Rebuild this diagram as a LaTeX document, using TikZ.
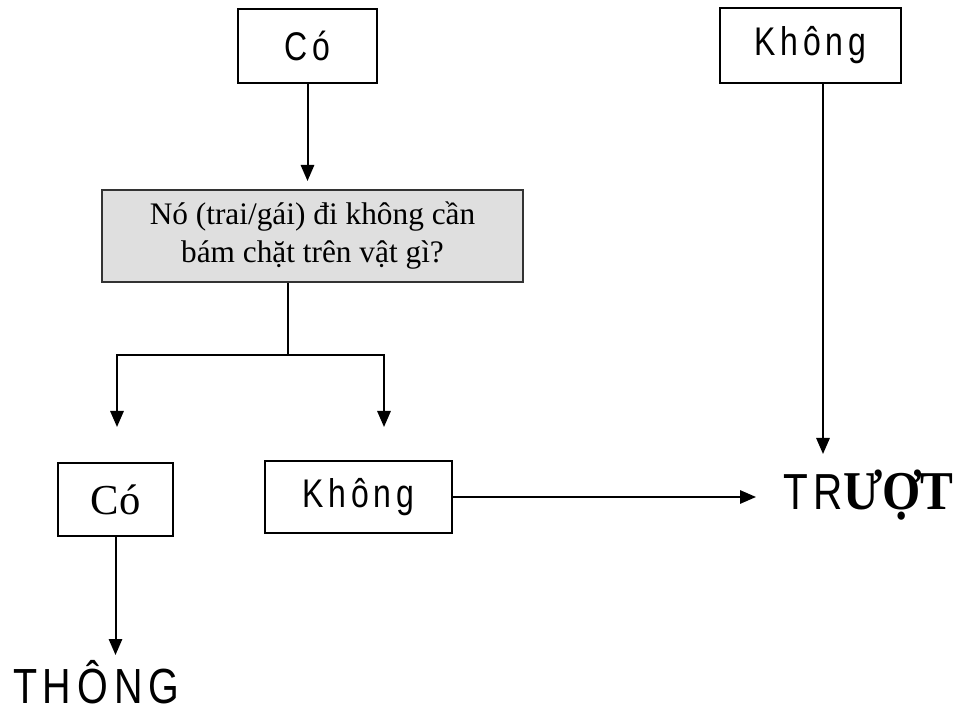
\documentclass[tikz,border=0pt]{standalone}
\usepackage{fontspec}
\setmainfont{Liberation Serif}
\newfontfamily\hep[FakeStretch=0.8,LetterSpace=12]{Liberation Sans}
\newfontfamily\chuto[FakeStretch=0.9]{Liberation Serif}
\usetikzlibrary{arrows.meta}

\begin{document}
\begin{tikzpicture}[x=0.75pt,y=-0.75pt]
                \useasboundingbox (0,0) rectangle (953,712);
                \begin{scope}[every node/.style={draw=black,line width=1.5pt,inner sep=0pt,font=\hep\fontsize{30}{34}\selectfont}]
                    \node[line width=2pt,minimum width=104.25pt,minimum height=55.5pt] (Co1) at (307.5,46) {Có};
                    \node[line width=2pt,minimum width=135.75pt,minimum height=56.25pt] (Khong1) at (810.5,45.5) {Không};
                    \node[draw=black!80,fill=gray!25,align=center,minimum width=315.75pt,minimum height=69pt,font=\fontsize{23.5}{28.5}\selectfont] (Hoi) at (312.5,236) {Nó (trai/gái) đi không cần\\bám chặt trên vật gì?};
                    \node[minimum width=86.25pt,minimum height=54.75pt,font=\fontsize{32}{36}\selectfont] (Co2) at (115.5,499.5) {Có};
                    \node[minimum width=140.25pt,minimum height=54pt] (Khong2) at (358.5,497) {Không};
                    \node[draw=none,anchor=base west,font=\hep\fontsize{38}{42}\selectfont] (Truot) at (782,510) {TR{\chuto\bfseries\fontsize{41}{44}\selectfont ƯỢT}};
                    \node[draw=none,anchor=base west,font=\hep\fontsize{37}{40}\selectfont] (Thong) at (12,703) {THÔNG};
                \end{scope}
                \coordinate (dau0) at (307.5,181);
                \coordinate (tach) at (288,355);
                \coordinate (dau1) at (117,427);
                \coordinate (dau2) at (384,427);
                \coordinate (dau3) at (823,454);
                \coordinate (dau4) at (756,497);
                \coordinate (dau5) at (115.5,655);
                \begin{scope}[every edge/.style={draw=black,line width=1.5pt,-{Triangle[length=12pt,width=10pt]}}]
                    \draw (Co1) edge (dau0);
                    \draw[line width=1.5pt] (Hoi.south -| tach) -- (tach);
                    \draw (tach) edge[to path={-| (\tikztotarget)}] (dau1);
                    \draw (tach) edge[to path={-| (\tikztotarget)}] (dau2);
                    \draw (Khong1.south -| dau3) edge (dau3);
                    \draw (Khong2) edge (dau4);
                    \draw (Co2) edge (dau5);
                \end{scope}
            \end{tikzpicture}
\end{document}
